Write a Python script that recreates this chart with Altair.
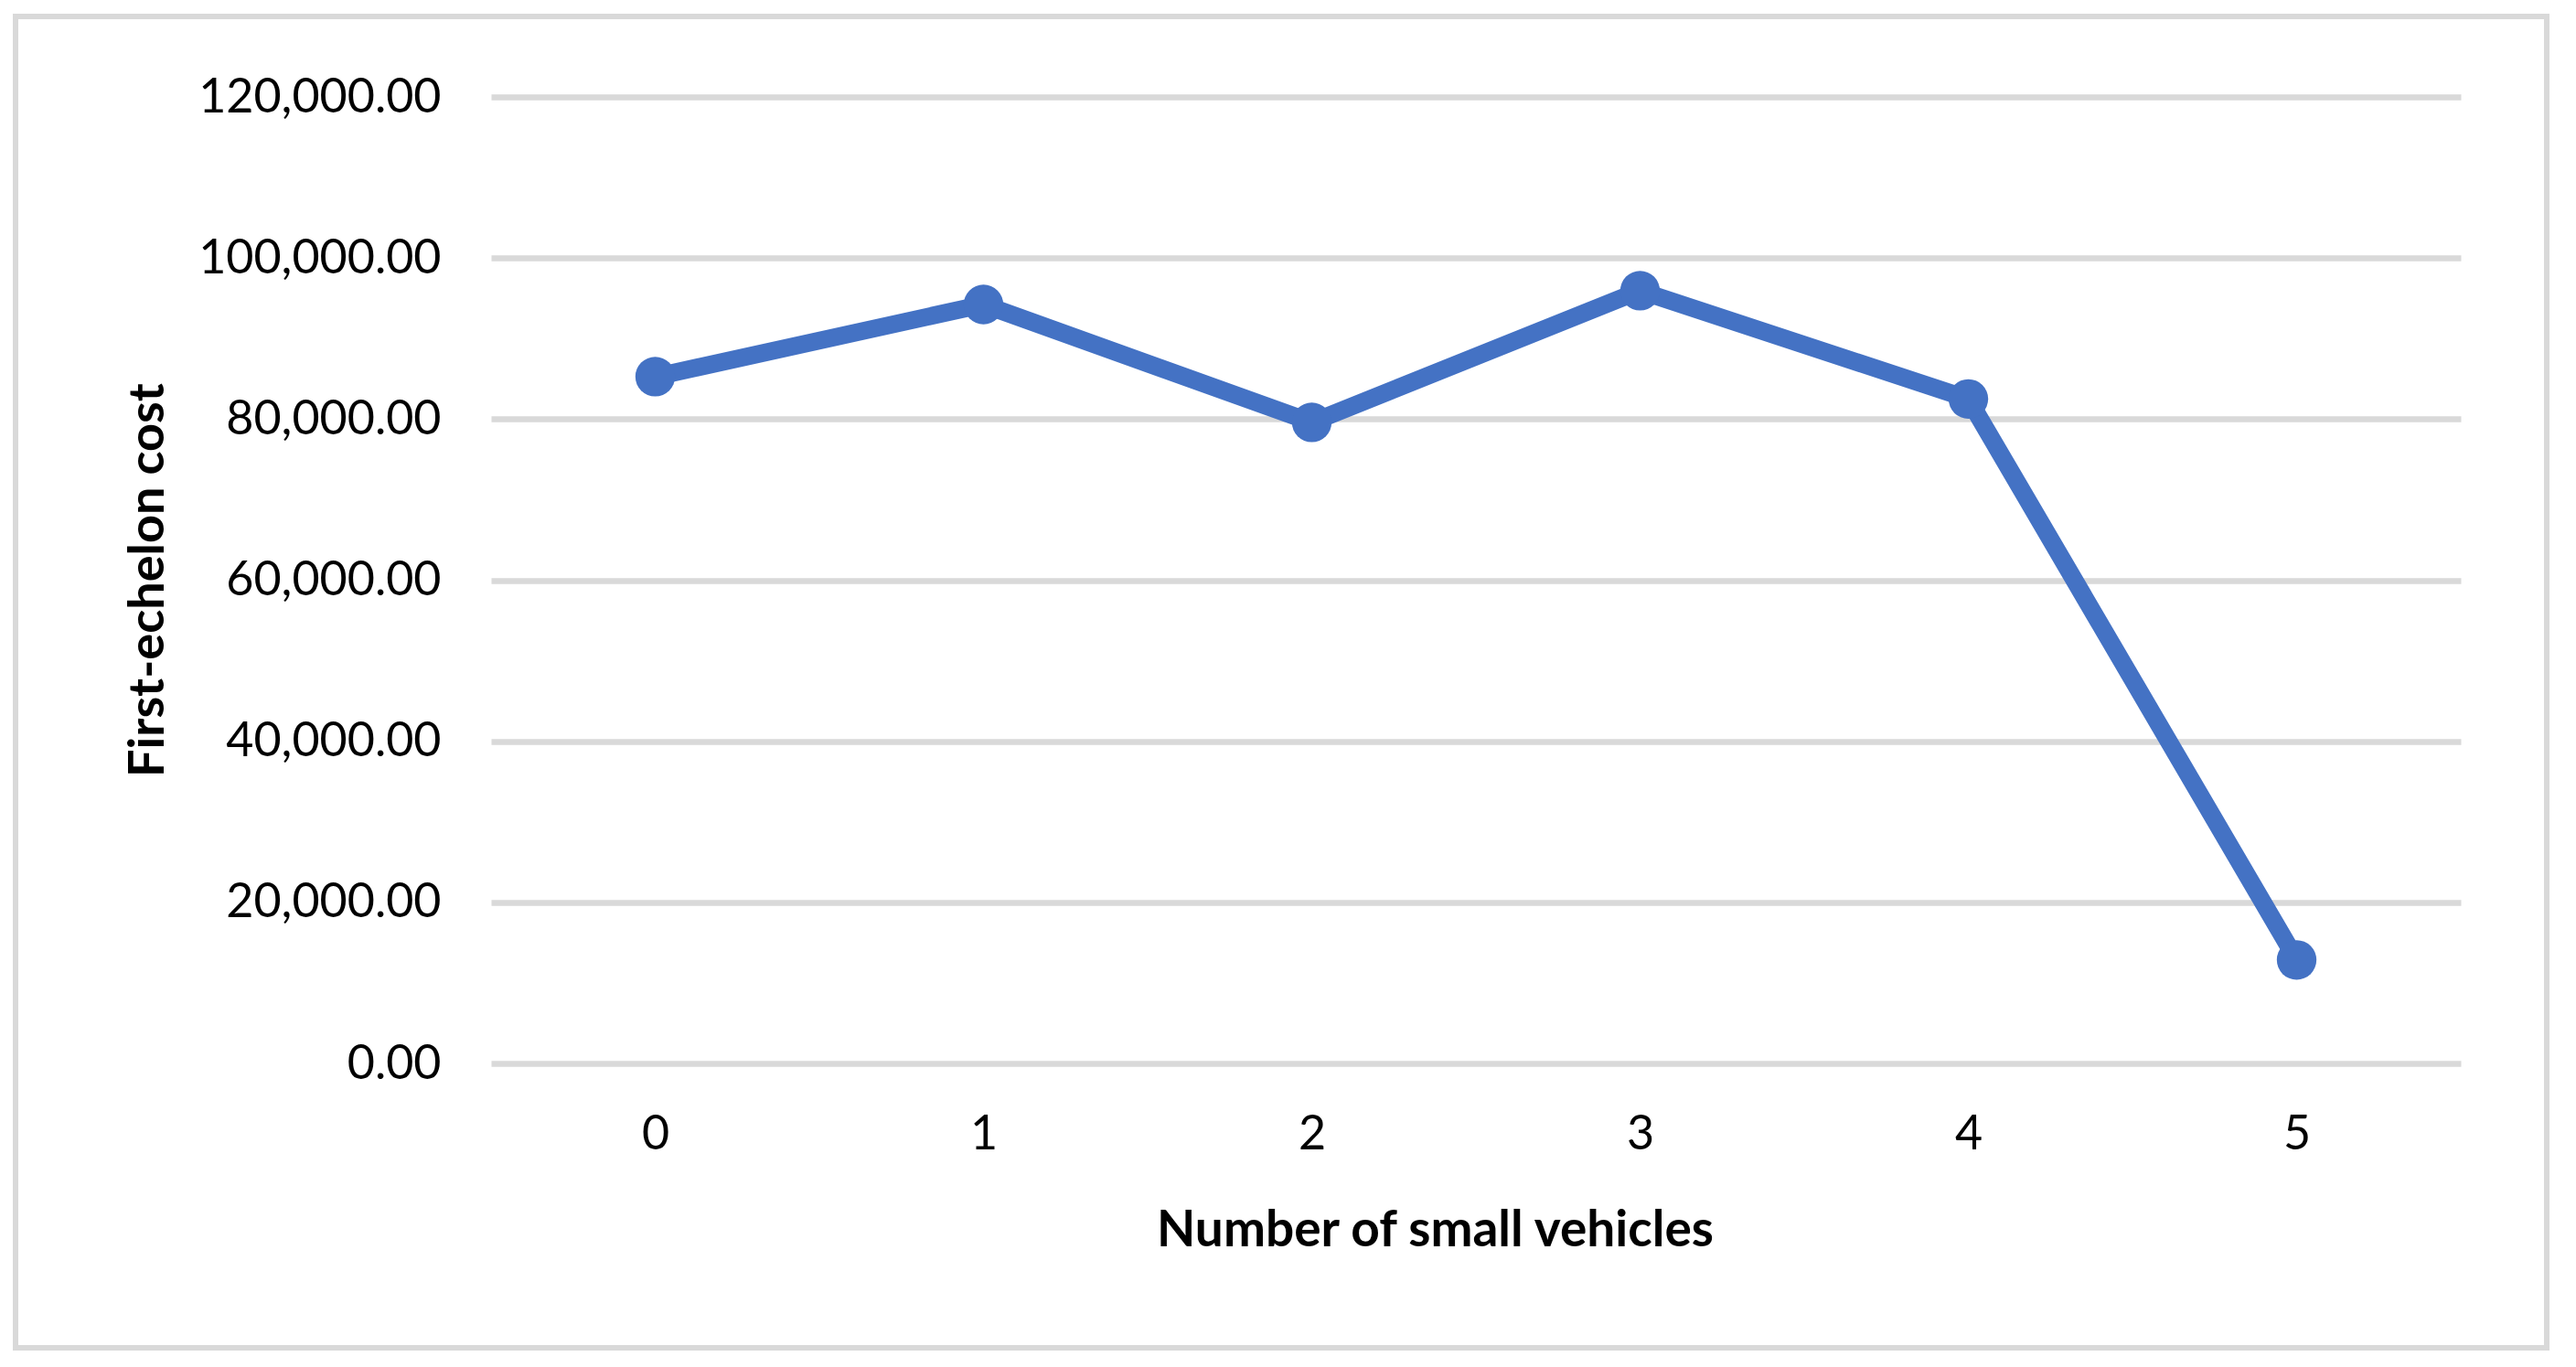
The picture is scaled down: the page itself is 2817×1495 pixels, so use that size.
import altair as alt
import pandas as pd

vehicles = ["0", "1", "2", "3", "4", "5"]
cost = [85270, 94230, 79590, 95940, 82500, 12850]
y_ticks = [0, 20000, 40000, 60000, 80000, 100000, 120000]

df = pd.DataFrame({"vehicles": vehicles, "cost": cost})

FONT = "Lato"
BLUE = "#4472C4"
GRID = "#D9D9D9"

W, H = 2154, 1057
PAD_L, PAD_T = 529, 98

x_enc = alt.X(
    "vehicles:O",
    sort=vehicles,
    scale=alt.Scale(padding=0.5),
    axis=alt.Axis(
        title="Number of small vehicles",
        labelAngle=0,
        labelFont=FONT,
        labelFontSize=52,
        labelColor="#000000",
        labelBaseline="middle",
        labelPadding=77,
        labelLimit=0,
        ticks=False,
        tickSize=0,
        domain=False,
        grid=False,
        titleFont=FONT,
        titleFontSize=55,
        titleFontWeight="bold",
        titleColor="#000000",
        titleBaseline="middle",
        titleX=1032,
        titleY=182,
        titleLimit=0,
    ),
)
y_enc = alt.Y(
    "cost:Q",
    scale=alt.Scale(domain=[0, 120000], nice=False),
    axis=alt.Axis(
        title="First-echelon cost",
        values=y_ticks,
        format=",.2f",
        labelFont=FONT,
        labelFontSize=52,
        labelColor="#000000",
        labelPadding=55,
        labelLimit=0,
        ticks=False,
        tickSize=0,
        domain=False,
        grid=True,
        gridColor=GRID,
        gridWidth=6.5,
        titleFont=FONT,
        titleFontSize=54,
        titleFontWeight="bold",
        titleColor="#000000",
        titleBaseline="middle",
        titleAngle=-90,
        titleX=-375,
        titleY=528,
        titleLimit=0,
    ),
)

line = alt.Chart(df).mark_line(color=BLUE, strokeWidth=19.5, strokeJoin="round").encode(x=x_enc, y=y_enc)
points = alt.Chart(df).mark_circle(color=BLUE, size=1880, opacity=1).encode(x=x_enc, y=y_enc)

frame = alt.Chart(pd.DataFrame({"a": [0]})).mark_rect(
    filled=False, stroke=GRID, strokeWidth=6, fill=None
).encode(
    x=alt.value(14 - 537 + 3),
    x2=alt.value(2788 - 537 - 3),
    y=alt.value(15 - 106 + 3),
    y2=alt.value(1477 - 106 - 3),
)

chart = alt.layer(frame, line, points).properties(
    width=W,
    height=H,
    autosize=alt.AutoSizeParams(type="none"),
    padding={"left": PAD_L, "top": PAD_T, "right": 110, "bottom": 322},
    background="#FFFFFF",
).configure_view(stroke=None)

chart.save("out.html", embed_options={"renderer": "svg", "actions": False})
